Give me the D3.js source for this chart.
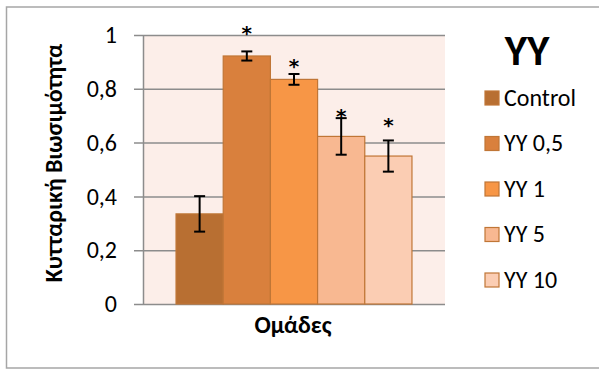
<!DOCTYPE html>
<html>
<head>
<meta charset="utf-8">
<script src="https://cdn.jsdelivr.net/npm/d3@7"></script>
<style>
  html, body { margin: 0; padding: 0; background: #fff; }
  svg { display: block; }
</style>
</head>
<body>
<svg id="chart" width="599" height="369"></svg>
<script>
// Cell viability per treatment group
const groups = ["Control", "YY 0,5", "YY 1", "YY 5", "YY 10"];
const means = [0.335, 0.922, 0.835, 0.623, 0.550];
const errors = [0.066, 0.017, 0.020, 0.068, 0.058];
// height (in axis units) of the significance marks; null = no mark
const starHeights = [null, 1.02, 0.895, 0.71, 0.675];
const fills = ["#B86F32", "#D9803D", "#F79646", "#F8B891", "#FBCDB3"];
const yTicks = [0, 0.2, 0.4, 0.6, 0.8, 1];
const yTickLabels = ["0", "0,2", "0,4", "0,6", "0,8", "1"];
const legendTitle = "YY";
const xTitle = "Ομάδες";
const yTitle = "Κυτταρική Βιωσιμότητα";

const svg = d3.select("#chart");
const font = "Carlito, 'Open Sans', 'Noto Sans', sans-serif";

// outer frame
svg.append("rect")
  .attr("x", 6.5).attr("y", 7).attr("width", 620).attr("height", 361)
  .attr("fill", "#fff").attr("stroke", "#A6A6A6").attr("stroke-width", 1.5);

const plot = { left: 143, right: 445, top: 35, bottom: 304 };

const y = d3.scaleLinear().domain([0, 1]).range([plot.bottom, plot.top]);
const outer = d3.scaleBand().domain(["Ομάδες"]).range([plot.left, plot.right])
  .paddingInner(0).paddingOuter(0.14);
const x = d3.scaleBand().domain(groups)
  .range([outer("Ομάδες"), outer("Ομάδες") + outer.bandwidth()]).padding(0);

// plot background
svg.append("rect")
  .attr("x", plot.left).attr("y", plot.top)
  .attr("width", plot.right - plot.left).attr("height", plot.bottom - plot.top)
  .attr("fill", "#FCEEE9");

// gridlines with outside tick marks
const yAxis = d3.axisLeft(y).tickValues(yTicks)
  .tickFormat((d, i) => yTickLabels[i])
  .tickSizeInner(-(plot.right - plot.left))
  .tickSizeOuter(0).tickPadding(26);

const gAxis = svg.append("g")
  .attr("transform", `translate(${plot.left},0)`)
  .call(yAxis);
gAxis.select(".domain").attr("stroke", "#8C8C8C").attr("stroke-width", 1.5);
gAxis.selectAll(".tick line")
  .attr("stroke", "#8C8C8C").attr("stroke-width", 1.5)
  .attr("x1", -9);
gAxis.selectAll(".tick text")
  .attr("font-family", font).attr("font-size", 24).attr("fill", "#000");

// bars
svg.append("g").selectAll("rect")
  .data(groups)
  .join("rect")
  .attr("x", d => x(d))
  .attr("y", (d, i) => y(means[i]))
  .attr("width", x.bandwidth())
  .attr("height", (d, i) => y(0) - y(means[i]))
  .attr("fill", (d, i) => fills[i])
  .attr("stroke", "#C07636")
  .attr("stroke-width", 1.2);

// error bars
const eb = svg.append("g").attr("stroke", "#000").attr("stroke-width", 2);
groups.forEach((g, i) => {
  const cx = x(g) + x.bandwidth() / 2;
  const y1 = y(means[i] + errors[i]), y2 = y(means[i] - errors[i]);
  eb.append("line").attr("x1", cx).attr("x2", cx).attr("y1", y1).attr("y2", y2);
  eb.append("line").attr("x1", cx - 5.5).attr("x2", cx + 5.5).attr("y1", y1).attr("y2", y1);
  eb.append("line").attr("x1", cx - 5.5).attr("x2", cx + 5.5).attr("y1", y2).attr("y2", y2);
});

// significance marks
svg.append("g").selectAll("text")
  .data(groups.filter((g, i) => starHeights[i] !== null))
  .join("text")
  .attr("x", g => x(g) + x.bandwidth() / 2)
  .attr("y", g => y(starHeights[groups.indexOf(g)]) + 10)
  .attr("text-anchor", "middle")
  .attr("font-family", "'DejaVu Sans', sans-serif")
  .attr("font-weight", "bold")
  .attr("font-size", 20)
  .text("*");

// axis titles
svg.append("text")
  .attr("x", (plot.left + plot.right) / 2 - 1).attr("y", 333)
  .attr("text-anchor", "middle")
  .attr("font-family", font).attr("font-weight", "bold").attr("font-size", 24)
  .text(xTitle);

svg.append("text")
  .attr("transform", `translate(62,163) rotate(-90)`)
  .attr("text-anchor", "middle")
  .attr("font-family", font).attr("font-weight", "bold").attr("font-size", 24)
  .text(yTitle);

// legend
svg.append("text")
  .attr("x", 527).attr("y", 65)
  .attr("text-anchor", "middle")
  .attr("font-family", font)
  .attr("font-weight", "bold").attr("font-size", 43)
  .text(legendTitle);

const legend = svg.append("g");
groups.forEach((g, i) => {
  const cy = 98 + i * 45.5;
  legend.append("rect")
    .attr("x", 485).attr("y", cy - 7).attr("width", 14).attr("height", 14)
    .attr("fill", fills[i]).attr("stroke", "#C07636").attr("stroke-width", 1.2);
  legend.append("text")
    .attr("x", 504).attr("y", cy + 7.5)
    .attr("font-family", font).attr("font-size", 24)
    .text(g);
});
</script>
</body>
</html>
